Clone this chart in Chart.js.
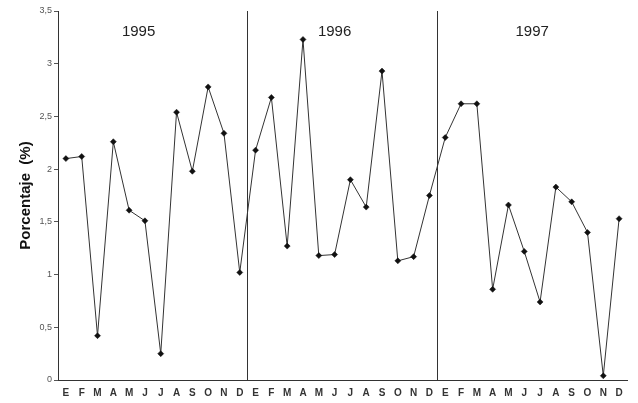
<!DOCTYPE html>
<html>
<head>
<meta charset="utf-8">
<script src="https://cdn.jsdelivr.net/npm/chart.js@4/dist/chart.umd.min.js"></script>
<style>
    body { margin: 0; background: #fff; }
    #wrap { width: 638px; height: 403px; }
</style>
</head>
<body>
<div id="wrap"><canvas id="pctChart"></canvas></div>
<script>
const months = ['E', 'F', 'M', 'A', 'M', 'J', 'J', 'A', 'S', 'O', 'N', 'D'];
const years = ['1995', '1996', '1997'];
const values1995 = [2.10, 2.12, 0.42, 2.26, 1.61, 1.51, 0.25, 2.54, 1.98, 2.78, 2.34, 1.02];
const values1996 = [2.18, 2.68, 1.27, 3.23, 1.18, 1.19, 1.90, 1.64, 2.93, 1.13, 1.17, 1.75];
const values1997 = [2.30, 2.62, 2.62, 0.86, 1.66, 1.22, 0.74, 1.83, 1.69, 1.40, 0.04, 1.53];
const yTicks = [0, 0.5, 1, 1.5, 2, 2.5, 3, 3.5];

const labels = [...months, ...months, ...months];
const values = [...values1995, ...values1996, ...values1997];

// year names written above each block of months
const yearLabels = {
    id: 'yearLabels',
    afterDatasetsDraw(chart) {
        const x = chart.scales.x;
        const y = chart.scales.y;
        const ctx = chart.ctx;
        const centers = [4.6, 17.0, 29.5];
        ctx.save();
        ctx.fillStyle = '#222';
        ctx.font = '15px "Liberation Sans", Arial, sans-serif';
        ctx.textAlign = 'center';
        ctx.textBaseline = 'middle';
        years.forEach((yr, i) => {
            ctx.fillText(yr, x.getPixelForValue(centers[i]), y.getPixelForValue(3.3));
        });
        ctx.restore();
    }
};

const ctx = document.getElementById('pctChart').getContext('2d');
const pctChart = new Chart(ctx, {
    type: 'line',
    data: {
        labels: labels,
        datasets: [{
            data: values,
            borderColor: '#333',
            borderWidth: 1,
            pointStyle: 'rectRot',
            pointRadius: 3,
            pointBackgroundColor: '#111',
            pointBorderColor: '#111',
            pointBorderWidth: 0.5,
            fill: false,
            lineTension: 0
        }]
    },
    options: {
        responsive: true,
        maintainAspectRatio: false,
        animation: false,
        layout: { padding: { top: 11, right: 11, bottom: 0, left: 0 } },
        plugins: {
            legend: { display: false },
            tooltip: { enabled: false }
        },
        scales: {
            x: {
                offset: true,
                grid: {
                    offset: true,
                    drawTicks: false,
                    color: (c) => (c.index === 12 || c.index === 24) ? '#333' : 'rgba(0,0,0,0)',
                    lineWidth: 1
                },
                border: { color: '#333', width: 1 },
                ticks: {
                    autoSkip: false,
                    maxRotation: 0,
                    padding: 7,
                    color: '#333',
                    font: { family: '"Liberation Sans", Arial, sans-serif', size: 10, weight: 'bold' }
                },
                afterFit: (s) => { s.height = 23; }
            },
            y: {
                min: 0,
                max: 3.5,
                afterBuildTicks: (s) => { s.ticks = yTicks.map(v => ({ value: v })); },
                grid: { drawOnChartArea: false, tickLength: 4, color: '#555' },
                border: { color: '#333', width: 1 },
                ticks: {
                    padding: 2,
                    color: '#555',
                    font: { family: '"Liberation Sans", Arial, sans-serif', size: 9 },
                    callback: (v) => v.toString().replace('.', ',')
                },
                title: {
                    display: true,
                    text: 'Porcentaje  (%)',
                    color: '#111',
                    padding: { top: 17, bottom: 0 },
                    font: { family: '"Liberation Sans", Arial, sans-serif', size: 15, weight: 'bold' }
                },
                afterFit: (s) => { s.width = 58; }
            }
        }
    },
    plugins: [yearLabels]
});
</script>
</body>
</html>
